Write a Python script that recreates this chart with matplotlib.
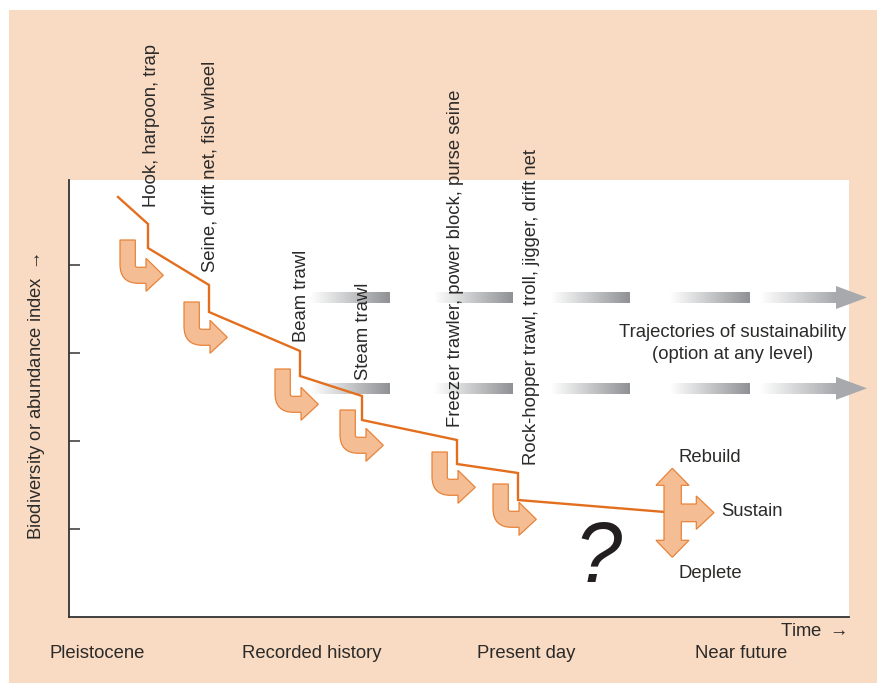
import matplotlib
matplotlib.use('Agg')
import matplotlib.pyplot as plt
import numpy as np
from matplotlib.path import Path
from matplotlib.patches import PathPatch, Polygon, Rectangle

plt.rcParams['font.family'] = ['Liberation Sans', 'DejaVu Sans']
plt.rcParams['mathtext.default'] = 'regular'

PEACH, ORANGE, FILL, EDGE, INK = '#f9dbc3', '#e36f1e', '#f4bd94', '#e8833a', '#2b2a29'
TXT = 13.35

# index trajectory
line_x = [49, 79, 79, 140, 140, 231, 231, 293, 293, 388, 388, 449, 449, 596]
line_y = [420, 393, 369, 332, 305, 266, 241, 221, 197, 177, 153, 144, 117, 105]
y_ticks = [88, 176, 264, 352]

# gear labels, rotated
gear_names = ['Hook, harpoon, trap', 'Seine, drift net, fish wheel', 'Beam trawl', 'Steam trawl',
              'Freezer trawler, power block, purse seine', 'Rock-hopper trawl, troll, jigger, drift net']
gear_x = [82, 141, 232, 294, 386, 462]
gear_y = [410, 345, 275, 237, 190, 152]

# top-left corner of each bent arrow
bent_x = [51, 115, 206, 271, 363, 424]
bent_y = [377, 315, 248, 207, 165, 133]

# sustainability bars
bar_rows = [319.5, 228.7]
bar_starts = [241, 365, 482, 601]
bar_ends = [321, 444, 561, 681]
arrow_start, arrow_end, arrow_tip = 691, 767, 798

period_names = ['Pleistocene', 'Recorded history', 'Present day', 'Near future']
period_x = [-19.5, 173, 408, 626]

fig = plt.figure(figsize=(8.77, 6.83), dpi=100, facecolor='white')
fig.add_artist(Rectangle((9 / 877, 0), 868 / 877, 673 / 683, transform=fig.transFigure, fc=PEACH, ec='none', zorder=-1))
ax = fig.add_axes([69 / 877, 66 / 683, 780 / 877, 437 / 683])
ax.set_facecolor('white')
for s in ['top', 'right']:
    ax.spines[s].set_visible(False)
for s in ['left', 'bottom']:
    ax.spines[s].set_color('#333333')
    ax.spines[s].set_linewidth(1.3)
ax.set_xticks([])
ax.set_yticks(y_ticks)
ax.set_yticklabels([])
ax.tick_params(axis='y', direction='in', length=8, width=1.1, color='#333333')

def gradient(x0, x1, y0, y1, end):
    rgb = np.array(matplotlib.colors.to_rgb(end))
    t = np.linspace(0, 1, 128)[None, :, None]
    img = 1 + (rgb - 1) * t
    ax.imshow(img, extent=[x0, x1, y0, y1], aspect='auto', zorder=1, interpolation='bilinear', clip_on=False)

for y in bar_rows:
    for a, b in zip(bar_starts, bar_ends):
        gradient(a, b, y - 5.5, y + 5.5, '#8f9194')
    gradient(arrow_start, arrow_end, y - 5.5, y + 5.5, '#a7a9ac')
    ax.add_patch(Polygon([(arrow_end, y + 11.5), (arrow_tip, y), (arrow_end, y - 11.5)], fc='#a7a9ac', ec='none', zorder=1, clip_on=False))
ax.set_xlim(0, 780)
ax.set_ylim(0, 437)

ax.plot(line_x, line_y, color=ORANGE, lw=1.7, solid_joinstyle='miter', zorder=3)

def bent_arrow(x, y):
    verts = [(0, 0), (15.3, 0), (15.3, -25), (15.3, -26.5), (16, -27.3), (18, -27.3), (26, -27.3), (26, -18.3),
             (43.3, -35.3), (26, -51.3), (26, -43.3), (19, -43.3), (6, -43.3), (0, -37), (0, -24), (0, 0)]
    codes = [Path.MOVETO, Path.LINETO, Path.LINETO, Path.CURVE4, Path.CURVE4, Path.CURVE4, Path.LINETO, Path.LINETO,
             Path.LINETO, Path.LINETO, Path.LINETO, Path.LINETO, Path.CURVE4, Path.CURVE4, Path.CURVE4, Path.CLOSEPOLY]
    pts = [(x + a, y + b) for a, b in verts]
    ax.add_patch(PathPatch(Path(pts, codes), fc=FILL, ec=EDGE, lw=0.9, zorder=2))

for x, y in zip(bent_x, bent_y):
    bent_arrow(x, y)

# three way arrow at the end of the line
fork = [(603.3, 148.7), (620, 131.7), (612.3, 131.7), (612.3, 113), (627.3, 113), (627.3, 121), (645, 104.3),
        (627.3, 87.7), (627.3, 95.3), (612.3, 95.3), (612.3, 76.7), (620, 76.7), (603.3, 59.7), (587, 76.7),
        (595, 76.7), (595, 131.7), (587, 131.7)]
ax.add_patch(Polygon(fork, fc=FILL, ec=EDGE, lw=0.9, zorder=4))

for name, x, y in zip(gear_names, gear_x, gear_y):
    ax.text(x, y, name, rotation=90, ha='center', va='bottom', fontsize=TXT, color=INK, zorder=5)

ax.text(663.5, 284, 'Trajectories of sustainability', ha='center', va='center', fontsize=TXT, color=INK, zorder=5)
ax.text(663.5, 262, '(option at any level)', ha='center', va='center', fontsize=TXT, color=INK, zorder=5)
ax.text(609, 159, 'Rebuild', va='center', fontsize=TXT, color=INK)
ax.text(652, 105, 'Sustain', va='center', fontsize=TXT, color=INK)
ax.text(609, 43, 'Deplete', va='center', fontsize=TXT, color=INK)
ax.text(529, 57, '?', ha='center', va='center', fontsize=61, color='#231f20', style='italic')

ax.text(-32, 220.5, 'Biodiversity or abundance index $\\rightarrow$', rotation=90, ha='center', va='center', fontsize=TXT, color=INK)
ax.text(778, -15, 'Time $\\rightarrow$', ha='right', va='center', fontsize=TXT, color=INK)
for name, x in zip(period_names, period_x):
    ax.text(x, -37, name, ha='left', va='center', fontsize=TXT, color=INK)

fig.savefig('out.png', dpi=100, facecolor=fig.get_facecolor())
